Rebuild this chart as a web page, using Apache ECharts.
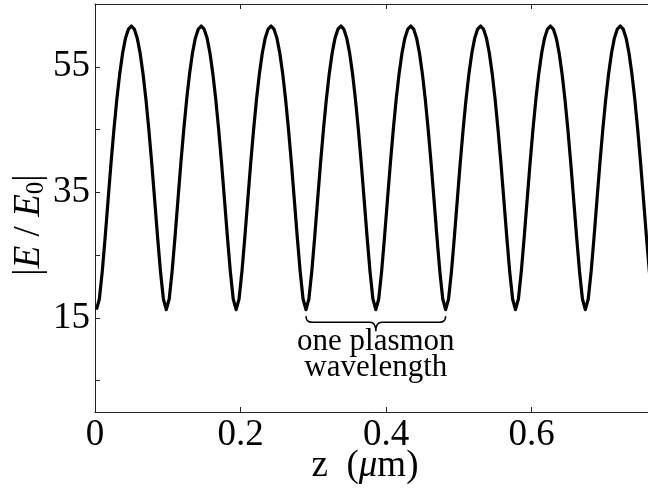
<!DOCTYPE html>
<html>
<head>
<meta charset="utf-8">
<script src="https://cdn.jsdelivr.net/npm/echarts@6/dist/echarts.min.js"></script>
<style>
  html, body { margin: 0; padding: 0; background: #fff; }
  #chart { width: 648px; height: 490px; }
</style>
</head>
<body>
<div id="chart"></div>
<script>
// Field enhancement |E/E0| along z, sampled every zStep starting at zStart (µm).
// One row per standing-wave period (24 samples each, minimum first).
const zStart = 0.002;
const zStep = 0.004;
const fieldRows = [
  [16.3, 18.0, 22.4, 27.9, 33.8, 39.6, 45.0, 49.8, 53.9, 57.2, 59.6, 61.0, 61.5, 61.0, 59.6, 57.2, 53.9, 49.8, 45.0, 39.6, 33.8, 27.9, 22.4, 18.0],
  [16.3, 18.0, 22.4, 27.9, 33.8, 39.6, 45.0, 49.8, 53.9, 57.2, 59.6, 61.0, 61.5, 61.0, 59.6, 57.2, 53.9, 49.8, 45.0, 39.6, 33.8, 27.9, 22.4, 18.0],
  [16.3, 18.0, 22.4, 27.9, 33.8, 39.6, 45.0, 49.8, 53.9, 57.2, 59.6, 61.0, 61.5, 61.0, 59.6, 57.2, 53.9, 49.8, 45.0, 39.6, 33.8, 27.9, 22.4, 18.0],
  [16.3, 18.0, 22.4, 27.9, 33.8, 39.6, 45.0, 49.8, 53.9, 57.2, 59.6, 61.0, 61.5, 61.0, 59.6, 57.2, 53.9, 49.8, 45.0, 39.6, 33.8, 27.9, 22.4, 18.0],
  [16.3, 18.0, 22.4, 27.9, 33.8, 39.6, 45.0, 49.8, 53.9, 57.2, 59.6, 61.0, 61.5, 61.0, 59.6, 57.2, 53.9, 49.8, 45.0, 39.6, 33.8, 27.9, 22.4, 18.0],
  [16.3, 18.0, 22.4, 27.9, 33.8, 39.6, 45.0, 49.8, 53.9, 57.2, 59.6, 61.0, 61.5, 61.0, 59.6, 57.2, 53.9, 49.8, 45.0, 39.6, 33.8, 27.9, 22.4, 18.0],
  [16.3, 18.0, 22.4, 27.9, 33.8, 39.6, 45.0, 49.8, 53.9, 57.2, 59.6, 61.0, 61.5, 61.0, 59.6, 57.2, 53.9, 49.8, 45.0, 39.6, 33.8, 27.9, 22.4, 18.0],
  [16.3, 18.0, 22.4, 27.9, 33.8, 39.6, 45.0, 49.8, 53.9, 57.2, 59.6, 61.0, 61.5, 61.0, 59.6, 57.2, 53.9, 49.8, 45.0, 39.6, 33.8, 27.9, 22.4, 18.0],
  [16.3, 18.0, 22.4, 27.9, 33.8]
];

// Axis ticks and labels
const xTickValues = [0, 0.2, 0.4, 0.6, 0.8];
const yTickValues = [5, 15, 25, 35, 45, 55, 65];
const yLabelValues = [15, 35, 55];

// Brace marking one plasmon wavelength (two field minima) and its caption
const braceSpan = [0.290, 0.482];
const braceLevel = 14.3;
const braceCaption = ['one plasmon', 'wavelength'];

const points = [];
let k = 0;
fieldRows.forEach(row => row.forEach(v => {
  points.push([+(zStart + zStep * k).toFixed(3), v]);
  k++;
}));

const SERIF = "'Liberation Serif', 'Times New Roman', serif";
const INK = '#000';
const AXIS = '#222';

const chart = echarts.init(document.getElementById('chart'), null, { renderer: 'canvas' });

chart.setOption({
  animation: false,
  backgroundColor: '#fff',
  // The plot box runs on past the right edge of the canvas (z up to 0.8).
  grid: { left: 95, top: 4, width: 582, bottom: 78, containLabel: false, outerBoundsMode: 'none' },
  xAxis: [
    {
      type: 'value', position: 'bottom', min: 0, max: 0.8,
      axisLine: { show: true, onZero: false, lineStyle: { color: AXIS, width: 1 } },
      axisTick: { show: true, inside: true, length: 5, customValues: xTickValues, lineStyle: { color: AXIS } },
      axisLabel: { show: true, customValues: xTickValues, margin: 5, color: INK, fontFamily: SERIF, fontSize: 37 },
      splitLine: { show: false }
    },
    {
      type: 'value', position: 'top', min: 0, max: 0.8,
      axisLine: { show: true, onZero: false, lineStyle: { color: AXIS, width: 1 } },
      axisTick: { show: true, inside: true, length: 5, customValues: xTickValues, lineStyle: { color: AXIS } },
      axisLabel: { show: false },
      splitLine: { show: false }
    }
  ],
  yAxis: {
    type: 'value', min: 0, max: 65,
    axisLine: { show: true, onZero: false, lineStyle: { color: AXIS, width: 1 } },
    axisTick: { show: true, inside: true, length: 5, customValues: yTickValues, lineStyle: { color: AXIS } },
    axisLabel: { show: true, customValues: yLabelValues, margin: 5, color: INK, fontFamily: SERIF, fontSize: 37 },
    splitLine: { show: false }
  },
  series: [
    {
      type: 'line',
      xAxisIndex: 0,
      data: points,
      showSymbol: false,
      smooth: false,
      lineStyle: { color: INK, width: 3.2, join: 'round' },
      clip: true
    },
    {
      type: 'custom',
      xAxisIndex: 0,
      data: [[braceSpan[0], braceSpan[1], braceLevel]],
      encode: { x: [0, 1], y: 2 },
      renderItem: function (params, api) {
        const a = api.coord([api.value(0), api.value(2)]);
        const b = api.coord([api.value(1), api.value(2)]);
        const x0 = a[0], x1 = b[0], y = a[1];
        const xc = (x0 + x1) / 2;
        const r = 6;
        const d = 'M' + x0 + ',' + (y - 6) +
          ' Q' + x0 + ',' + y + ' ' + (x0 + r) + ',' + y +
          ' L' + (xc - r) + ',' + y +
          ' Q' + xc + ',' + y + ' ' + xc + ',' + (y + 9) +
          ' Q' + xc + ',' + y + ' ' + (xc + r) + ',' + y +
          ' L' + (x1 - r) + ',' + y +
          ' Q' + x1 + ',' + y + ' ' + x1 + ',' + (y - 6);
        return {
          type: 'group',
          children: [
            {
              type: 'path',
              shape: { pathData: d },
              style: { stroke: INK, fill: null, lineWidth: 1.6 }
            },
            {
              type: 'text',
              x: xc, y: y + 20,
              style: {
                text: braceCaption[0],
                align: 'center', verticalAlign: 'middle',
                fontFamily: SERIF, fontSize: 31, fill: INK
              }
            },
            {
              type: 'text',
              x: xc, y: y + 46,
              style: {
                text: braceCaption[1],
                align: 'center', verticalAlign: 'middle',
                fontFamily: SERIF, fontSize: 31, fill: INK
              }
            }
          ]
        };
      }
    }
  ],
  graphic: [
    {
      type: 'text',
      x: 365, y: 466,
      style: {
        text: 'z  ({i|\u03bc}m)',
        align: 'center', verticalAlign: 'middle',
        fontFamily: SERIF, fontSize: 37, fill: INK,
        rich: { i: { fontFamily: SERIF, fontSize: 37, fontStyle: 'italic', fill: INK } }
      }
    },
    {
      type: 'text',
      x: 29, y: 225,
      rotation: Math.PI / 2,
      style: {
        text: '|{i|E} / {i|E}{s|0}|',
        align: 'center', verticalAlign: 'middle',
        fontFamily: SERIF, fontSize: 37, fill: INK, lineHeight: 40,
        rich: {
          i: { fontFamily: SERIF, fontSize: 37, fontStyle: 'italic', fill: INK, lineHeight: 40 },
          s: { fontFamily: SERIF, fontSize: 25, fill: INK, verticalAlign: 'bottom', lineHeight: 40 }
        }
      }
    }
  ]
});
</script>
</body>
</html>
